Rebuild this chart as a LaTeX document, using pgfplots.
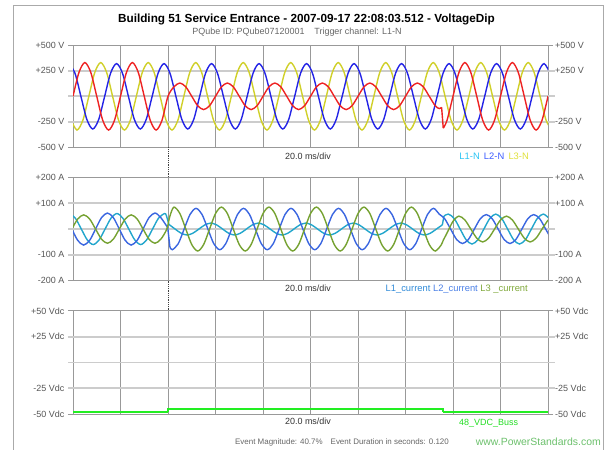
\documentclass[border=0pt]{standalone}
\usepackage{pgfplots}
\pgfplotsset{compat=1.18}
\usepackage{fontspec}
\setmainfont{Liberation Sans}
\definecolor{vred}{HTML}{EE2222}
\definecolor{vblue}{HTML}{2424E6}
\definecolor{vyel}{HTML}{D0D02A}
\definecolor{cblue}{HTML}{3A66E0}
\definecolor{cteal}{HTML}{22A6CC}
\definecolor{cgreen}{HTML}{76A232}
\definecolor{dcgreen}{HTML}{22EE22}
\definecolor{gridv}{HTML}{999999}
\definecolor{gridh}{HTML}{CCCCCC}
\definecolor{ticklab}{HTML}{555555}
\definecolor{subgray}{HTML}{666666}
\definecolor{framegray}{HTML}{AAAAAA}
\definecolor{lAn}{HTML}{2AC4F4}
\definecolor{lBn}{HTML}{3B5BFF}
\definecolor{lCn}{HTML}{E0E03A}
\definecolor{lAc}{HTML}{2F8AD8}
\definecolor{lBc}{HTML}{4A7FE6}
\definecolor{lCc}{HTML}{7FA83A}
\definecolor{dclab}{HTML}{22DD22}
\definecolor{www}{HTML}{6CC06C}
\tikzset{
  tl/.style={font=\fontsize{9}{10}\selectfont, text=ticklab, inner sep=1bp},
  hgrid/.style={gridh, line width=1.8bp},
  small/.style={font=\fontsize{9}{10}\selectfont},
  leg/.style={font=\fontsize{9.4}{11}\selectfont},
}
\pgfplotsset{
  panel/.style={
    scale only axis, width=475bp, anchor=north west,
    xmin=0, xmax=200, xtick={0,20,...,200}, xticklabels={},
    xmajorgrids, major x grid style={gridv, line width=0.8bp},
    xtick style={draw=none},
    axis line style={gridv, line width=0.8bp},
    ytick pos=both, yticklabel pos=left,
    tick align=outside, major tick length=5bp,
    ytick style={gridv, line width=0.8bp},
    yticklabel style={tl, xshift=-2.5bp},
    clip mode=individual,
    every axis plot/.append style={line width=1.4bp},
  },
}
\begin{document}
\begin{tikzpicture}
\useasboundingbox (0,0) rectangle (610bp,-450bp);
\draw[framegray, line width=0.8bp] (13bp,-450bp) -- (13bp,-5.5bp) -- (603bp,-5.5bp) -- (603bp,-450bp);

% ---------------- Voltage panel ----------------
\begin{axis}[panel, at={(73bp,-45.2bp)}, height=102.2bp,
  ymin=-500, ymax=500, ytick={-500,-250,250,500},
  yticklabels={-500 V,-250 V,+250 V,+500 V}]
\draw[hgrid] (rel axis cs:-0.0105,0.75) -- (rel axis cs:1.0147,0.75);
\draw[hgrid] (rel axis cs:-0.0105,0.5) -- (rel axis cs:1.0147,0.5);
\draw[hgrid] (rel axis cs:-0.0105,0.25) -- (rel axis cs:1.0147,0.25);
\addplot[vyel, smooth] coordinates {
(-0.83,-233)(1.67,-330)(4.17,-233)(6.67,0)(9.17,233)(11.67,330)(14.17,233)(16.67,0)
(19.17,-233)(21.67,-330)(24.17,-233)(26.67,0)(29.17,233)(31.67,330)(34.17,233)(36.67,0)
(39.17,-233)(41.67,-330)(44.17,-233)(46.67,0)(49.17,233)(51.67,330)(54.17,233)(56.67,0)
(59.17,-233)(61.67,-330)(64.17,-233)(66.67,0)(69.17,233)(71.67,330)(74.17,233)(76.67,0)
(79.17,-233)(81.67,-330)(84.17,-233)(86.67,0)(89.17,233)(91.67,330)(94.17,233)(96.67,0)
(99.17,-233)(101.67,-330)(104.17,-233)(106.67,0)(109.17,233)(111.67,330)(114.17,233)(116.67,0)
(119.17,-233)(121.67,-330)(124.17,-233)(126.67,0)(129.17,233)(131.67,330)(134.17,233)(136.67,0)
(139.17,-233)(141.67,-330)(144.17,-233)(146.67,0)(149.17,233)(151.67,330)(154.17,233)(156.67,0)
(159.17,-233)(161.67,-330)(164.17,-233)(166.67,0)(169.17,233)(171.67,330)(174.17,233)(176.67,0)
(179.17,-233)(181.67,-330)(184.17,-233)(186.67,0)(189.17,233)(191.67,330)(194.17,233)(196.67,0)
(199.17,-233)(201.67,-330)};
\addplot[vblue, smooth] coordinates {
(-1.67,320)(0.83,226)(3.33,0)(5.83,-226)(8.33,-320)(10.83,-226)(13.33,0)(15.83,226)
(18.33,320)(20.83,226)(23.33,0)(25.83,-226)(28.33,-320)(30.83,-226)(33.33,0)(35.83,226)
(38.33,320)(40.83,226)(43.33,0)(45.83,-226)(48.33,-320)(50.83,-226)(53.33,0)(55.83,226)
(58.33,320)(60.83,226)(63.33,0)(65.83,-226)(68.33,-320)(70.83,-226)(73.33,0)(75.83,226)
(78.33,320)(80.83,226)(83.33,0)(85.83,-226)(88.33,-320)(90.83,-226)(93.33,0)(95.83,226)
(98.33,320)(100.83,226)(103.33,0)(105.83,-226)(108.33,-320)(110.83,-226)(113.33,0)(115.83,226)
(118.33,320)(120.83,226)(123.33,0)(125.83,-226)(128.33,-320)(130.83,-226)(133.33,0)(135.83,226)
(138.33,320)(140.83,226)(143.33,0)(145.83,-226)(148.33,-320)(150.83,-226)(153.33,0)(155.83,226)
(158.33,320)(160.83,226)(163.33,0)(165.83,-226)(168.33,-320)(170.83,-226)(173.33,0)(175.83,226)
(178.33,320)(180.83,226)(183.33,0)(185.83,-226)(188.33,-320)(190.83,-226)(193.33,0)(195.83,226)
(198.33,320)(200.83,226)};
\addplot[vred, smooth] coordinates {
(0,0)(2.5,233)(5,330)(7.5,233)(10,0)(12.5,-233)(15,-330)(17.5,-233)
(20,0)(22.5,233)(25,330)(27.5,233)(30,0)(32.5,-233)(35,-330)(37.5,-233)
(40,0)(42.5,92)(45,130)(47.5,92)(50,0)(52.5,-92)(55,-130)(57.5,-92)
(60,0)(62.5,92)(65,130)(67.5,92)(70,0)(72.5,-92)(75,-130)(77.5,-92)
(80,0)(82.5,92)(85,130)(87.5,92)(90,0)(92.5,-92)(95,-130)(97.5,-92)
(100,0)(102.5,92)(105,130)(107.5,92)(110,0)(112.5,-92)(115,-130)(117.5,-92)
(120,0)(122.5,92)(125,130)(127.5,92)(130,0)(132.5,-92)(135,-130)(137.5,-92)
(140,0)(142.5,92)(145,130)(147.5,92)(150,0)(152.5,-92)(154.2,-120)(155.2,-108)};
\addplot[vred] coordinates {(155.2,-108)(155.9,-312)};
\addplot[vred, smooth] coordinates {
(155.9,-312)(157.5,-233)(160,0)(162.5,233)(165,330)(167.5,233)(170,0)(172.5,-233)
(175,-330)(177.5,-233)(180,0)(182.5,233)(185,330)(187.5,233)(190,0)(192.5,-233)
(195,-330)(197.5,-233)(200,0)};
\node[tl, anchor=west, xshift=6bp] at (axis cs:200,500) {+500 V};
\node[tl, anchor=west, xshift=6bp] at (axis cs:200,250) {+250 V};
\node[tl, anchor=west, xshift=6bp] at (axis cs:200,-250) {-250 V};
\node[tl, anchor=west, xshift=6bp] at (axis cs:200,-500) {-500 V};
\end{axis}

% ---------------- Current panel ----------------
\begin{axis}[panel, at={(73bp,-177.4bp)}, height=103.3bp,
  ymin=-200, ymax=200, ytick={-200,-100,100,200},
  yticklabels={-200 A,-100 A,+100 A,+200 A}]
\draw[hgrid] (rel axis cs:-0.0105,0.75) -- (rel axis cs:1.0147,0.75);
\draw[hgrid] (rel axis cs:-0.0105,0.5) -- (rel axis cs:1.0147,0.5);
\draw[hgrid] (rel axis cs:-0.0105,0.25) -- (rel axis cs:1.0147,0.25);
% teal
\addplot[cteal, smooth] coordinates {
(-1.5,60)(1,42)(3.5,0)(6,-42)(8.5,-60)(11,-42)(13.5,0)(16,42)
(18.5,60)(21,42)(23.5,0)(26,-42)(28.5,-60)(31,-42)(33.5,0)(36,42)
(38.5,60)(39.2,56)};
\addplot[cteal] coordinates {(39.2,56)(40.4,18)};
\addplot[cteal, smooth] coordinates {
(40.4,18)(43,0)(45.5,-16)(48,-23)(50.5,-16)(53,0)(55.5,16)(58,23)
(60.5,16)(63,0)(65.5,-16)(68,-23)(70.5,-16)(73,0)(75.5,16)(78,23)
(80.5,16)(83,0)(85.5,-16)(88,-23)(90.5,-16)(93,0)(95.5,16)(98,23)
(100.5,16)(103,0)(105.5,-16)(108,-23)(110.5,-16)(113,0)(115.5,16)(118,23)
(120.5,16)(123,0)(125.5,-16)(128,-23)(130.5,-16)(133,0)(135.5,16)(138,23)
(140.5,16)(143,0)(145.5,-16)(148,-23)(150.5,-16)(153,0)(155.5,16)};
\addplot[cteal] coordinates {(155.5,16)(156.2,50)};
\addplot[cteal, smooth] coordinates {
(156.2,50)(158,58)(160.5,41)(163,0)(165.5,-41)(168,-58)(170.5,-41)(173,0)
(175.5,41)(178,58)(180.5,41)(183,0)(185.5,-41)(188,-58)(190.5,-41)(193,0)
(195.5,41)(198,58)(200.5,41)};
% blue
\addplot[cblue, smooth] coordinates {
(-0.5,0)(2,-44)(4.5,-62)(7,-44)(9.5,0)(12,44)(14.5,62)(17,44)
(19.5,0)(22,-44)(24.5,-62)(27,-44)(29.5,0)(32,44)(34.5,62)(37,44)(39.9,5)};
\addplot[cblue] coordinates {(39.9,5)(40.8,-70)};
\addplot[cblue, smooth] coordinates {
(40.8,-70)(41.8,-80)(44.3,-57)(46.8,0)(49.3,57)(51.8,80)(54.3,57)(56.8,0)(59.3,-57)
(61.8,-80)(64.3,-57)(66.8,0)(69.3,57)(71.8,80)(74.3,57)(76.8,0)(79.3,-57)
(81.8,-80)(84.3,-57)(86.8,0)(89.3,57)(91.8,80)(94.3,57)(96.8,0)(99.3,-57)
(101.8,-80)(104.3,-57)(106.8,0)(109.3,57)(111.8,80)(114.3,57)(116.8,0)(119.3,-57)
(121.8,-80)(124.3,-57)(126.8,0)(129.3,57)(131.8,80)(134.3,57)(136.8,0)(139.3,-57)
(141.8,-80)(144.3,-57)(146.8,0)(149.3,57)(151.8,80)(154.3,57)
(156.5,40)(159,0)(161.5,-40)(164,-56)(166.5,-40)(169,0)(171.5,40)(174,56)
(176.5,40)(179,0)(181.5,-40)(184,-56)(186.5,-40)(189,0)(191.5,40)(194,56)
(196.5,40)(199,0)(201.5,-40)};
% green
\addplot[cgreen, smooth] coordinates {
(-0.5,0)(2,39)(4.5,55)(7,39)(9.5,0)(12,-39)(14.5,-55)(17,-39)
(19.5,0)(22,39)(24.5,55)(27,39)(29.5,0)(32,-39)(34.5,-55)(37,-39)(39.5,0)
(40.8,50)(42.5,85)(45,60)(47.5,0)(50,-60)(52.5,-85)(55,-60)(57.5,0)
(60,60)(62.5,85)(65,60)(67.5,0)(70,-60)(72.5,-85)(75,-60)(77.5,0)
(80,60)(82.5,85)(85,60)(87.5,0)(90,-60)(92.5,-85)(95,-60)(97.5,0)
(100,60)(102.5,85)(105,60)(107.5,0)(110,-60)(112.5,-85)(115,-60)(117.5,0)
(120,60)(122.5,85)(125,60)(127.5,0)(130,-60)(132.5,-85)(135,-60)(137.5,0)
(140,60)(142.5,85)(145,60)(147.5,0)(150,-60)(152.5,-85)(155,-62)(155.8,-45)};
\addplot[cgreen, smooth] coordinates {
(155.8,-45)(156.2,-38)(157.5,-15)(160,30)(162.5,50)(165,35)(167.5,0)(170,-35)
(172.5,-50)(175,-35)(177.5,0)(180,35)(182.5,50)(185,35)(187.5,0)(190,-35)
(192.5,-50)(195,-35)(197.5,0)(200,35)};
\node[tl, anchor=west, xshift=6bp] at (axis cs:200,200) {+200 A};
\node[tl, anchor=west, xshift=6bp] at (axis cs:200,100) {+100 A};
\node[tl, anchor=west, xshift=6bp] at (axis cs:200,-100) {-100 A};
\node[tl, anchor=west, xshift=6bp] at (axis cs:200,-200) {-200 A};
\end{axis}

% ---------------- DC panel ----------------
\begin{axis}[panel, at={(73bp,-310.8bp)}, height=103.2bp,
  ymin=-50, ymax=50, ytick={-50,-25,25,50},
  yticklabels={-50 Vdc,-25 Vdc,+25 Vdc,+50 Vdc}]
\draw[hgrid] (rel axis cs:-0.0105,0.75) -- (rel axis cs:1.0147,0.75);
\draw[hgrid] (rel axis cs:-0.0105,0.5) -- (rel axis cs:1.0147,0.5);
\draw[hgrid] (rel axis cs:-0.0105,0.25) -- (rel axis cs:1.0147,0.25);
\addplot[dcgreen, line width=2bp] coordinates {(0,-47.8)(40,-47.8)};
\addplot[dcgreen, line width=2bp] coordinates {(40,-47.8)(40,-45.6)(155.8,-45.6)(155.8,-47.8)};
\addplot[dcgreen, line width=2bp] coordinates {(155.8,-47.8)(200,-47.8)};
\node[tl, anchor=west, xshift=6bp] at (axis cs:200,50) {+50 Vdc};
\node[tl, anchor=west, xshift=6bp] at (axis cs:200,25) {+25 Vdc};
\node[tl, anchor=west, xshift=6bp] at (axis cs:200,-25) {-25 Vdc};
\node[tl, anchor=west, xshift=6bp] at (axis cs:200,-50) {-50 Vdc};
\end{axis}

% trigger line between panels
\draw[black!75, line width=0.8bp, densely dotted] (168bp,-147.4bp) -- (168bp,-177.4bp);
\draw[black!75, line width=0.8bp, densely dotted] (168bp,-280.7bp) -- (168bp,-310.8bp);

% texts
\node[font=\bfseries\fontsize{11.8}{14}\selectfont, anchor=base, inner sep=0] at (306.5bp,-22.5bp)
  {Building 51 Service Entrance - 2007-09-17 22:08:03.512 - VoltageDip};
\node[font=\fontsize{9}{10}\selectfont, text=subgray, anchor=base, inner sep=0] at (297bp,-34.5bp)
  {PQube ID: PQube07120001\hspace{1.1em}Trigger channel: L1-N};
\node[small, text=black!80, anchor=base, inner sep=0] at (308bp,-159bp) {20.0 ms/div};
\node[small, text=black!80, anchor=base, inner sep=0] at (308bp,-291.5bp) {20.0 ms/div};
\node[small, text=black!80, anchor=base, inner sep=0] at (308bp,-424.5bp) {20.0 ms/div};
\node[leg, anchor=base east, inner sep=0] at (529bp,-159bp)
  {\textcolor{lAn}{L1-N}\hspace{0.45em}\textcolor{lBn}{L2-N}\hspace{0.45em}\textcolor{lCn}{L3-N}};
\node[leg, anchor=base east, inner sep=0] at (528bp,-291bp)
  {\textcolor{lAc}{L1\_current} \textcolor{lBc}{L2\_current} \textcolor{lCc}{L3 \_current}};
\node[small, anchor=base west, inner sep=0, text=dclab] at (459bp,-425bp) {48\_VDC\_Buss};
\node[font=\fontsize{8}{10}\selectfont, text=subgray, anchor=base, inner sep=0] at (342bp,-444.5bp)
  {Event Magnitude: 40.7\%\hspace{1em}Event Duration in seconds: 0.120};
\node[font=\fontsize{10.5}{12}\selectfont, text=www, anchor=base east, inner sep=0] at (601bp,-445bp)
  {www.PowerStandards.com};
\end{tikzpicture}
\end{document}
